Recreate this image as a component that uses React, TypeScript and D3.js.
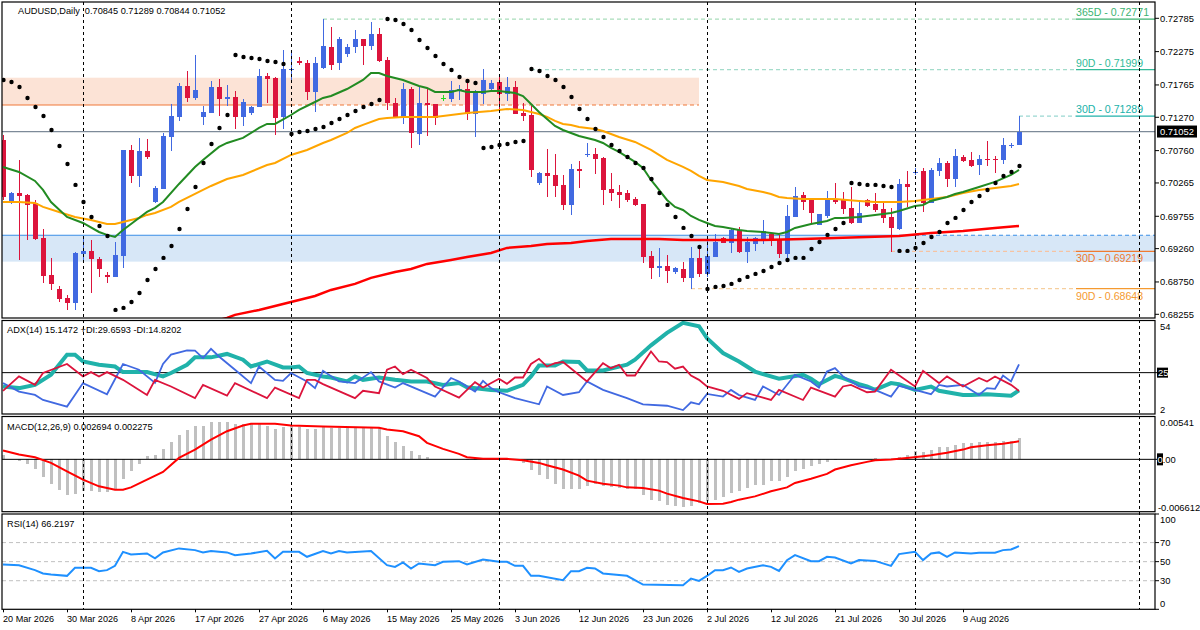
import React from "react";
import * as d3 from "d3";

// ---------- DATA ----------
const openP = [0.70923,0.69974,0.70112,0.70082,0.69959,0.69424,0.68858,0.68643,0.68505,0.68429,0.69179,0.69225,0.69102,0.68858,0.68827,0.69148,0.70770,0.70372,0.70755,0.69974,0.70173,0.70969,0.71275,0.71749,0.71566,0.71275,0.71336,0.71734,0.71550,0.71581,0.71275,0.71336,0.71428,0.71902,0.71872,0.71275,0.72000,0.72132,0.72101,0.71657,0.72025,0.72346,0.72101,0.72239,0.72346,0.72468,0.72361,0.72545,0.72147,0.71489,0.71275,0.71703,0.71015,0.71489,0.71474,0.71566,0.71550,0.71673,0.71703,0.71321,0.71627,0.71703,0.71810,0.71627,0.71734,0.71336,0.71305,0.70265,0.70418,0.70388,0.70235,0.69929,0.70479,0.70694,0.70709,0.70648,0.70173,0.70127,0.70112,0.70020,0.69944,0.69148,0.68965,0.68995,0.68903,0.68949,0.68812,0.69118,0.68873,0.69133,0.69424,0.69347,0.69546,0.69209,0.69332,0.69408,0.69485,0.69408,0.69179,0.69745,0.70082,0.70005,0.69623,0.69760,0.70005,0.70005,0.69883,0.69653,0.70005,0.69944,0.69867,0.69745,0.69561,0.70250,0.70426,0.70449,0.69959,0.70449,0.70571,0.70326,0.70663,0.70617,0.70540,0.70632,0.70632,0.70617,0.70840,0.70845];
const highP = [0.70999,0.70127,0.70617,0.70090,0.70005,0.69561,0.69118,0.68689,0.68551,0.69210,0.69454,0.69393,0.69133,0.68903,0.69362,0.70775,0.70847,0.70954,0.70938,0.70219,0.71030,0.71474,0.71795,0.71979,0.72224,0.71443,0.71826,0.71856,0.71765,0.71673,0.71550,0.71443,0.72009,0.71948,0.71887,0.72300,0.72269,0.72193,0.72147,0.72193,0.72771,0.72652,0.72499,0.72392,0.72606,0.72475,0.72728,0.72637,0.72193,0.71566,0.71795,0.71734,0.71734,0.71719,0.71480,0.71611,0.71826,0.71765,0.71856,0.71688,0.72009,0.71841,0.71887,0.71887,0.71826,0.71489,0.71443,0.70433,0.70786,0.70709,0.70388,0.70556,0.70602,0.70877,0.70801,0.70655,0.70418,0.70235,0.70158,0.70051,0.69950,0.69225,0.69271,0.69164,0.68980,0.69056,0.69286,0.69286,0.69424,0.69485,0.69439,0.69561,0.69592,0.69439,0.69439,0.69699,0.69490,0.69470,0.69929,0.70204,0.70127,0.70010,0.69795,0.70143,0.70265,0.70127,0.70204,0.70005,0.70020,0.70112,0.69974,0.69883,0.70326,0.70449,0.70495,0.70495,0.70495,0.70648,0.70602,0.70786,0.70694,0.70740,0.70694,0.70908,0.70678,0.70954,0.70877,0.71289];
const lowP = [0.70005,0.69944,0.69087,0.69393,0.69393,0.68735,0.68628,0.68444,0.68322,0.68322,0.69087,0.68582,0.68827,0.68735,0.68820,0.68965,0.70265,0.70204,0.70632,0.69959,0.70170,0.70755,0.71214,0.71504,0.71535,0.71153,0.71330,0.71290,0.71443,0.71091,0.71137,0.71305,0.71420,0.71489,0.70999,0.71091,0.71841,0.72070,0.71535,0.71351,0.72009,0.71994,0.71994,0.72193,0.72254,0.72070,0.72300,0.72116,0.71382,0.71260,0.71168,0.70801,0.70847,0.70984,0.71153,0.71520,0.71504,0.71535,0.71229,0.70969,0.71474,0.71657,0.71382,0.71520,0.71315,0.71214,0.70357,0.70235,0.70051,0.70051,0.69852,0.69776,0.70189,0.70663,0.70403,0.69929,0.69990,0.69883,0.69974,0.69913,0.69041,0.68796,0.68827,0.68735,0.68873,0.68751,0.68643,0.68827,0.68827,0.69125,0.69340,0.69194,0.69194,0.69041,0.69225,0.69332,0.69301,0.69118,0.69118,0.69740,0.69852,0.69638,0.69620,0.69730,0.69944,0.69791,0.69638,0.69650,0.69898,0.69821,0.69653,0.69209,0.69546,0.69898,0.70388,0.69821,0.69955,0.70372,0.70204,0.70204,0.70587,0.70510,0.70388,0.70525,0.70418,0.70556,0.70801,0.70844];
const closeP = [0.70051,0.70112,0.70066,0.69929,0.69408,0.68842,0.68720,0.68490,0.68429,0.69194,0.69225,0.69102,0.68949,0.68827,0.69164,0.70770,0.70372,0.70755,0.70663,0.70189,0.70984,0.71290,0.71749,0.71566,0.71688,0.71351,0.71734,0.71550,0.71581,0.71275,0.71504,0.71428,0.71902,0.71856,0.71260,0.72009,0.72009,0.72101,0.71657,0.72101,0.72361,0.72070,0.72468,0.72346,0.72468,0.72361,0.72545,0.72132,0.71489,0.71275,0.71703,0.71030,0.71489,0.71458,0.71260,0.71566,0.71688,0.71703,0.71321,0.71642,0.71841,0.71795,0.71627,0.71734,0.71321,0.71290,0.70464,0.70418,0.70372,0.70219,0.69929,0.70479,0.70449,0.70709,0.70632,0.70158,0.70112,0.70082,0.70005,0.69929,0.69133,0.68965,0.68995,0.68918,0.68965,0.68812,0.69118,0.68873,0.69148,0.69362,0.69347,0.69546,0.69209,0.69362,0.69424,0.69531,0.69378,0.69179,0.69760,0.70066,0.69974,0.69806,0.69791,0.70005,0.69974,0.69867,0.69653,0.69806,0.69913,0.69852,0.69730,0.69577,0.70250,0.70204,0.70433,0.69959,0.70464,0.70571,0.70326,0.70678,0.70602,0.70525,0.70632,0.70617,0.70617,0.70847,0.70847,0.71052];
const sarP = [0.71841,0.71810,0.71734,0.71566,0.71428,0.71290,0.71076,0.70831,0.70556,0.70235,0.69974,0.69745,0.69607,0.69454,0.68322,0.68353,0.68444,0.68582,0.68781,0.68949,0.69118,0.69301,0.69561,0.69867,0.70204,0.70571,0.70862,0.71107,0.71305,0.72224,0.72193,0.72178,0.72162,0.72132,0.72116,0.72086,0.71015,0.71045,0.71061,0.71091,0.71122,0.71183,0.71244,0.71305,0.71367,0.71428,0.71474,0.71535,0.72774,0.72759,0.72698,0.72606,0.72453,0.72331,0.72208,0.72086,0.71994,0.71887,0.71826,0.71795,0.70801,0.70816,0.70847,0.70862,0.70893,0.70908,0.72009,0.71979,0.71902,0.71841,0.71734,0.71581,0.71397,0.71244,0.71091,0.70969,0.70847,0.70755,0.70663,0.70571,0.70495,0.70326,0.70112,0.69929,0.69745,0.69577,0.69454,0.69286,0.68643,0.68674,0.68689,0.68720,0.68781,0.68827,0.68873,0.68918,0.68980,0.69041,0.69087,0.69118,0.69118,0.69255,0.69362,0.69470,0.69561,0.69653,0.70265,0.70250,0.70235,0.70235,0.70219,0.70204,0.69225,0.69225,0.69271,0.69347,0.69439,0.69515,0.69653,0.69730,0.69852,0.69974,0.70066,0.70158,0.70265,0.70372,0.70433,0.70525];

// moving averages: [bar index, value]
const maFast: [number, number][] = [[0,0.70510],[2,0.70433],[4,0.70296],[5,0.70158],[6,0.69974],[8,0.69745],[10,0.69653],[12,0.69515],[13,0.69470],[14,0.69439],[15,0.69546],[16,0.69638],[18,0.69821],[19,0.69883],[20,0.69974],[22,0.70250],[24,0.70510],[25,0.70617],[27,0.70816],[28,0.70877],[30,0.70954],[32,0.71107],[33,0.71168],[34,0.71168],[36,0.71305],[37,0.71382],[39,0.71504],[40,0.71566],[41,0.71596],[43,0.71703],[45,0.71841],[46,0.71948],[47,0.71948],[48,0.71902],[50,0.71841],[51,0.71795],[52,0.71749],[53,0.71719],[54,0.71657],[56,0.71657],[57,0.71688],[58,0.71657],[60,0.71657],[61,0.71673],[62,0.71673],[63,0.71657],[64,0.71642],[65,0.71596],[66,0.71474],[67,0.71351],[68,0.71244],[69,0.71137],[70,0.71076],[71,0.71030],[72,0.70984],[74,0.70923],[75,0.70877],[76,0.70801],[77,0.70740],[78,0.70663],[79,0.70587],[80,0.70495],[81,0.70311],[82,0.70158],[83,0.70005],[84,0.69898],[85,0.69852],[86,0.69760],[87,0.69699],[88,0.69653],[89,0.69607],[90,0.69592],[92,0.69546],[93,0.69531],[95,0.69515],[96,0.69500],[97,0.69485],[98,0.69515],[99,0.69577],[100,0.69607],[101,0.69638],[103,0.69684],[104,0.69730],[105,0.69730],[107,0.69745],[108,0.69760],[110,0.69791],[111,0.69806],[112,0.69837],[114,0.69913],[115,0.69929],[116,0.69990],[118,0.70051],[119,0.70097],[120,0.70127],[122,0.70204],[124,0.70281],[126,0.70388],[127,0.70464]];
const maMid: [number, number][] = [[0,0.69974],[2,0.69974],[4,0.69959],[5,0.69898],[7,0.69821],[9,0.69745],[11,0.69699],[13,0.69638],[14,0.69638],[15,0.69669],[17,0.69730],[18,0.69776],[19,0.69806],[21,0.69898],[22,0.69974],[24,0.70097],[26,0.70219],[28,0.70326],[30,0.70388],[33,0.70540],[34,0.70571],[36,0.70694],[38,0.70770],[40,0.70877],[41,0.70923],[43,0.71030],[44,0.71107],[45,0.71153],[47,0.71244],[48,0.71260],[50,0.71275],[54,0.71275],[56,0.71305],[58,0.71336],[61,0.71367],[63,0.71397],[65,0.71382],[66,0.71351],[67,0.71321],[68,0.71275],[69,0.71214],[70,0.71168],[71,0.71153],[72,0.71122],[74,0.71091],[75,0.71061],[76,0.71015],[77,0.70969],[79,0.70893],[81,0.70770],[82,0.70694],[83,0.70617],[85,0.70510],[86,0.70449],[87,0.70372],[88,0.70311],[90,0.70281],[92,0.70219],[93,0.70173],[95,0.70127],[96,0.70097],[97,0.70051],[98,0.70036],[100,0.70020],[104,0.70020],[107,0.69990],[109,0.69974],[112,0.69974],[114,0.69990],[116,0.70020],[118,0.70051],[120,0.70112],[122,0.70158],[124,0.70189],[126,0.70219],[127,0.70250]];
const maSlow: [number, number][] = [[20,0.67940],[28,0.68200],[29,0.68246],[32,0.68322],[34,0.68383],[36,0.68444],[39,0.68536],[41,0.68628],[44,0.68720],[46,0.68812],[49,0.68903],[51,0.68949],[53,0.69026],[56,0.69087],[58,0.69133],[61,0.69194],[63,0.69271],[66,0.69301],[68,0.69332],[71,0.69347],[73,0.69378],[76,0.69408],[82,0.69408],[85,0.69393],[95,0.69393],[100,0.69408],[104,0.69424],[108,0.69439],[112,0.69454],[116,0.69500],[120,0.69531],[124,0.69577],[127,0.69607]];

const adxMain: [number, number][] = [[0,17.3],[2,16.4],[4,18.2],[6,23.8],[8,35.0],[9,35.0],[10,31.2],[12,29.4],[14,28.4],[15,25.3],[18,25.3],[20,22.9],[21,24.8],[23,29.4],[24,33.5],[26,33.5],[28,35.4],[30,32.2],[31,28.4],[33,31.2],[35,27.9],[36,27.9],[37,28.4],[38,24.8],[40,22.9],[41,22.3],[43,20.1],[44,22.9],[45,21.0],[47,22.3],[49,21.0],[51,20.1],[53,20.1],[55,18.2],[57,19.2],[58,16.9],[61,15.4],[63,14.9],[65,18.2],[66,22.9],[67,29.0],[69,29.0],[70,31.2],[72,30.9],[73,26.2],[75,26.2],[78,29.4],[79,32.2],[81,40.2],[83,47.1],[85,52.7],[87,50.8],[88,44.2],[90,35.9],[92,31.2],[94,25.6],[95,24.2],[97,21.6],[100,23.8],[101,21.6],[102,18.6],[104,23.2],[105,22.0],[107,18.6],[108,17.3],[109,15.4],[111,19.2],[112,18.6],[114,15.4],[116,17.3],[117,14.9],[120,12.6],[121,12.6],[123,13.0],[126,12.2],[127,15.15]];
const plusDI: [number, number][] = [[0,19.2],[2,14.5],[4,12.6],[5,9.8],[8,6.1],[10,19.2],[13,13.0],[15,29.8],[17,26.6],[19,19.3],[20,29.8],[21,35.0],[23,37.4],[24,37.2],[25,33.1],[26,38.2],[27,34.0],[29,26.6],[31,19.2],[32,28.4],[34,21.0],[35,20.4],[36,24.8],[38,20.1],[39,16.4],[40,26.0],[42,20.1],[44,19.2],[46,25.3],[47,20.1],[49,16.7],[50,19.2],[52,15.4],[54,11.7],[56,22.0],[57,20.1],[59,14.5],[60,20.4],[61,16.4],[62,14.1],[64,10.8],[67,7.4],[68,17.3],[70,12.6],[72,14.1],[73,20.1],[75,15.4],[78,10.8],[80,7.4],[83,6.6],[85,4.2],[86,8.5],[87,7.4],[88,13.2],[90,11.7],[91,15.4],[92,12.5],[94,9.8],[95,17.3],[97,12.6],[99,23.8],[101,20.1],[102,16.7],[103,25.6],[104,27.5],[105,22.9],[107,17.3],[109,15.4],[111,11.7],[112,17.7],[114,15.4],[116,13.0],[117,18.2],[118,17.3],[120,18.2],[122,12.6],[123,16.4],[124,16.0],[125,23.4],[126,20.1],[127,29.66]];
const minusDI: [number, number][] = [[0,14.9],[2,22.9],[4,18.2],[5,24.8],[8,29.8],[10,22.9],[11,25.3],[12,22.9],[13,25.3],[15,21.0],[18,12.6],[19,21.0],[21,17.3],[24,10.8],[25,18.2],[28,12.2],[29,19.2],[33,10.8],[34,16.7],[37,10.8],[38,21.0],[39,21.0],[40,18.6],[44,10.8],[45,14.9],[47,13.6],[48,26.6],[49,28.4],[50,24.2],[51,26.6],[53,22.0],[54,17.3],[57,11.1],[59,19.7],[60,16.7],[62,21.6],[63,18.8],[64,22.3],[65,22.3],[66,29.8],[67,32.7],[68,28.4],[69,30.3],[70,30.9],[73,20.1],[75,30.3],[76,27.5],[77,29.4],[78,23.4],[79,23.4],[81,36.8],[82,31.2],[83,30.9],[84,27.2],[85,28.4],[86,23.4],[87,21.0],[88,17.3],[90,14.9],[92,10.4],[93,13.6],[95,11.1],[96,9.8],[97,15.4],[100,9.8],[101,16.7],[104,11.7],[105,17.3],[106,18.2],[108,14.1],[109,14.5],[111,26.6],[114,17.3],[115,26.0],[117,19.2],[118,22.9],[120,17.3],[122,22.0],[123,20.1],[124,22.9],[126,18.2],[127,14.82]];

const macdHist = [0.00051,0.00010,-0.00020,-0.00058,-0.00121,-0.00227,-0.00307,-0.00391,-0.00455,-0.00433,-0.00404,-0.00404,-0.00412,-0.00417,-0.00391,-0.00244,-0.00151,-0.00054,0.00039,0.00060,0.00136,0.00216,0.00313,0.00376,0.00427,0.00427,0.00469,0.00469,0.00469,0.00440,0.00440,0.00440,0.00440,0.00427,0.00389,0.00406,0.00419,0.00406,0.00389,0.00389,0.00406,0.00398,0.00398,0.00398,0.00398,0.00398,0.00398,0.00398,0.00292,0.00216,0.00174,0.00102,0.00060,0.00031,0.00005,0.00002,0.00003,0.00010,-0.00010,-0.00010,0.00002,0.00001,0.00002,-0.00003,-0.00010,-0.00045,-0.00130,-0.00193,-0.00247,-0.00307,-0.00370,-0.00370,-0.00370,-0.00341,-0.00311,-0.00332,-0.00349,-0.00361,-0.00370,-0.00370,-0.00455,-0.00509,-0.00531,-0.00581,-0.00594,-0.00607,-0.00585,-0.00551,-0.00522,-0.00509,-0.00480,-0.00425,-0.00404,-0.00361,-0.00328,-0.00320,-0.00278,-0.00278,-0.00227,-0.00151,-0.00117,-0.00088,-0.00058,-0.00032,-0.00010,0.00010,0.00003,0.00003,0.00010,0.00020,0.00010,0.00008,0.00031,0.00051,0.00102,0.00089,0.00123,0.00153,0.00153,0.00187,0.00203,0.00203,0.00216,0.00216,0.00216,0.00229,0.00237,0.002694];
const macdSignal: [number, number][] = [[0,0.00111],[2,0.00060],[4,0.00026],[6,-0.00045],[8,-0.00151],[10,-0.00256],[12,-0.00341],[14,-0.00383],[15,-0.00383],[16,-0.00354],[18,-0.00256],[20,-0.00159],[22,0.00018],[24,0.00123],[26,0.00250],[28,0.00355],[30,0.00427],[31,0.00449],[34,0.00449],[36,0.00427],[40,0.00414],[47,0.00398],[48,0.00376],[50,0.00355],[52,0.00292],[53,0.00208],[55,0.00132],[57,0.00069],[58,0.00026],[60,0.00006],[63,0.00006],[65,-0.00012],[67,-0.00045],[68,-0.00075],[70,-0.00129],[72,-0.00205],[73,-0.00269],[75,-0.00307],[77,-0.00332],[78,-0.00354],[80,-0.00361],[82,-0.00395],[83,-0.00433],[85,-0.00488],[87,-0.00531],[88,-0.00564],[90,-0.00560],[91,-0.00538],[92,-0.00509],[94,-0.00468],[96,-0.00404],[98,-0.00354],[99,-0.00298],[101,-0.00244],[103,-0.00184],[104,-0.00129],[106,-0.00075],[108,-0.00032],[109,-0.00012],[111,-0.00003],[113,0.00018],[115,0.00039],[116,0.00051],[118,0.00082],[120,0.00123],[121,0.00152],[123,0.00178],[125,0.00196],[127,0.002275]];

const rsiLine: [number, number][] = [[0,47.1],[2,46.3],[4,41.1],[5,37.6],[6,36.5],[8,35.1],[9,43.5],[11,43.5],[12,40.0],[13,41.1],[14,45.6],[15,60.3],[16,57.6],[18,58.6],[19,53.4],[20,59.7],[22,63.9],[24,62.1],[25,59.7],[26,61.1],[28,59.7],[29,56.8],[31,58.6],[33,61.4],[34,53.4],[35,60.3],[37,60.3],[38,55.1],[40,61.1],[41,58.6],[42,61.1],[43,59.7],[46,61.1],[48,46.3],[49,44.5],[50,49.2],[51,42.8],[52,48.1],[54,46.3],[55,49.8],[57,50.5],[58,47.1],[60,52.3],[62,49.8],[63,49.8],[64,45.6],[65,45.6],[66,35.1],[67,35.1],[70,30.5],[71,40.0],[72,40.0],[73,43.5],[74,42.8],[75,37.6],[78,35.1],[80,26.0],[85,25.3],[86,32.3],[87,29.8],[88,35.0],[89,41.1],[90,41.1],[91,43.9],[92,39.3],[93,42.8],[95,46.3],[96,44.5],[97,40.3],[98,51.6],[99,56.8],[101,50.5],[102,50.5],[103,55.1],[104,54.4],[106,48.1],[107,51.6],[109,50.8],[111,45.6],[112,57.9],[114,60.3],[115,51.6],[116,58.6],[117,59.7],[118,55.1],[119,59.7],[121,58.6],[122,59.3],[124,59.3],[125,62.1],[126,62.8],[127,66.22]];

const dateLabels = ["20 Mar 2026","30 Mar 2026","8 Apr 2026","17 Apr 2026","27 Apr 2026","6 May 2026","15 May 2026","25 May 2026","3 Jun 2026","12 Jun 2026","23 Jun 2026","2 Jul 2026","12 Jul 2026","21 Jul 2026","30 Jul 2026","9 Aug 2026"];
const dateLabelIdx = [0,8,16,24,32,40,48,56,64,72,80,88,96,104,112,120];
const monthSepIdx = [10,36,62,88,114,142];
const priceTicks = [0.72785,0.72275,0.71765,0.71270,0.70760,0.70265,0.69755,0.69260,0.68750,0.68255];
const supplyZone = [0.71458, 0.71876];
const supplyZoneIdx = [36, 87];
const demandZone = [0.69061, 0.69465];
const demandZoneIdx = [114];
const lastPrice = 0.71052;
const levelNames = ["365D","90D","30D","30D","90D"];
const levelValues = [0.72771, 0.71999, 0.71289, 0.69219, 0.68648];
const levelStartIdx = [40, 66, 127, 111, 86];
const levelKind = ["high","high","high","low","low"];
const adxTicks = ["54","25","2"];
const macdTicks = ["0.00541","0.00","-0.006612"];
const rsiTicks = [100,70,50,30,0];
const rsiLevels = [70,50,30];
const titleMain = "AUDUSD,Daily  0.70845 0.71289 0.70844 0.71052";
const titleAdx = "ADX(14) 15.1472 +DI:29.6593 -DI:14.8202";
const titleMacd = "MACD(12,26,9) 0.002694 0.002275";
const titleRsi = "RSI(14) 66.2197";

// ---------- CHART ----------
export default function App() {
  const L = 2, R = 1155;
  const M = { t: 2, b: 318 };
  const A = { t: 320.5, b: 414 };
  const C = { t: 416.5, b: 511.7 };
  const S = { t: 514, b: 609.3 };
  const font = "'Liberation Sans', Arial, sans-serif";

  const xs = d3.scaleLinear().domain([0, 127]).range([3, 1019]);
  const yP = d3.scaleLinear().domain([0.68255, 0.72785]).range([314.3, 18.3]);
  const yA = d3.scaleLinear().domain([2, 54]).range([A.b, A.t]);
  const yM = d3.scaleLinear().domain([-0.006612, 0.00541]).range([C.b, C.t]);
  const yR = d3.scaleLinear().domain([0, 100]).range([S.b, S.t]);

  const mk = (y: d3.ScaleLinear<number, number>) =>
    d3.line<[number, number]>().x((d) => xs(d[0])).y((d) => y(d[1]));
  const lP = mk(yP), lA = mk(yA), lM = mk(yM), lR = mk(yR);

  const levelSolid = ["#3cb371", "#33bb99", "#20b2aa", "#f07a30", "#f59a30"];
  const levelDash = ["#a9ddbb", "#a4dccb", "#9ad8d2", "#f6c3a2", "#f6cf9e"];
  const labelX = 1076;

  const bull = "#4169e1", bear = "#dc143c", doji = "#22dd22";

  return (
    <div style={{ position: "fixed", left: 0, top: 0, width: 1200, height: 630, background: "#fff" }}>
      <svg width={1200} height={630} style={{ display: "block" }} fontFamily={font}>
        <defs>
          <clipPath id="cM"><rect x={L} y={M.t} width={R - L} height={M.b - M.t} /></clipPath>
          <clipPath id="cA"><rect x={L} y={A.t} width={R - L} height={A.b - A.t} /></clipPath>
          <clipPath id="cC"><rect x={L} y={C.t} width={R - L} height={C.b - C.t} /></clipPath>
          <clipPath id="cS"><rect x={L} y={S.t} width={R - L} height={S.b - S.t} /></clipPath>
        </defs>
        <rect x={0} y={0} width={1200} height={630} fill="#fff" />

        {/* ---- MAIN PANEL ---- */}
        <g clipPath="url(#cM)">
          <rect x={L} y={yP(supplyZone[1])} width={xs(supplyZoneIdx[1]) - L} height={yP(supplyZone[0]) - yP(supplyZone[1])} fill="#fce3d6" />
          <rect x={L} y={yP(demandZone[1])} width={R - L} height={yP(demandZone[0]) - yP(demandZone[1])} fill="#d7e7f7" />
          <line x1={L} x2={xs(supplyZoneIdx[0])} y1={yP(supplyZone[0])} y2={yP(supplyZone[0])} stroke="#f07838" strokeWidth={1.2} />
          <line x1={xs(supplyZoneIdx[0])} x2={xs(supplyZoneIdx[1])} y1={yP(supplyZone[0])} y2={yP(supplyZone[0])} stroke="#f07838" strokeWidth={1.2} strokeDasharray="4,3" />
          <line x1={L} x2={xs(demandZoneIdx[0])} y1={yP(demandZone[1])} y2={yP(demandZone[1])} stroke="#3a8ee6" strokeWidth={1.2} />
          <line x1={xs(demandZoneIdx[0])} x2={R} y1={yP(demandZone[1])} y2={yP(demandZone[1])} stroke="#3a8ee6" strokeWidth={1.2} strokeDasharray="4,3" />
          <line x1={L} x2={R} y1={yP(lastPrice)} y2={yP(lastPrice)} stroke="#7d8a99" strokeWidth={1.3} />
          {levelValues.map((v, k) => (
            <g key={"lv" + k}>
              <line x1={xs(levelStartIdx[k])} x2={labelX} y1={yP(v)} y2={yP(v)} stroke={levelDash[k]} strokeWidth={1.2} strokeDasharray="4,3" />
              <line x1={labelX} x2={R} y1={yP(v)} y2={yP(v)} stroke={levelSolid[k]} strokeWidth={1.3} />
            </g>
          ))}
          {/* candles */}
          {openP.map((o, i) => {
            const c = closeP[i];
            const col = c > o ? bull : c < o ? bear : doji;
            const x = xs(i);
            const top = yP(Math.max(o, c)), bot = yP(Math.min(o, c));
            return (
              <g key={"c" + i} shapeRendering="crispEdges">
                <line x1={x + 0.5} x2={x + 0.5} y1={yP(highP[i])} y2={yP(lowP[i])} stroke={col} strokeWidth={1} />
                <rect x={x - 2} y={top} width={5} height={Math.max(1, bot - top)} fill={col} />
              </g>
            );
          })}
          <path d={lP(maSlow) || ""} fill="none" stroke="#ff0000" strokeWidth={2.5} />
          <path d={lP(maMid) || ""} fill="none" stroke="#ffa500" strokeWidth={2} />
          <path d={lP(maFast) || ""} fill="none" stroke="#228b22" strokeWidth={2} />
          {sarP.map((s, i) => (
            <circle key={"s" + i} cx={xs(i) + 0.5} cy={yP(s)} r={2.2} fill="#000" />
          ))}
        </g>
        {levelValues.map((v, k) => (
          <text key={"lt" + k} x={labelX} y={levelKind[k] === "high" ? yP(v) - 3 : yP(v) + 11} fontSize={10.6} fill={levelSolid[k]}>
            {levelNames[k] + " - " + v.toFixed(5)}
          </text>
        ))}
        <text x={18} y={14} fontSize={9.2} fill="#000" style={{ whiteSpace: "pre" }}>{titleMain}</text>

        {/* ---- ADX PANEL ---- */}
        <g clipPath="url(#cA)">
          <line x1={L} x2={R} y1={yA(25)} y2={yA(25)} stroke="#000" strokeWidth={1} />
          <path d={lA(adxMain) || ""} fill="none" stroke="#20b2aa" strokeWidth={4} />
          <path d={lA(plusDI) || ""} fill="none" stroke="#4169e1" strokeWidth={1.8} />
          <path d={lA(minusDI) || ""} fill="none" stroke="#dc143c" strokeWidth={1.8} />
        </g>
        <text x={7} y={A.t + 12} fontSize={9.2} fill="#000">{titleAdx}</text>

        {/* ---- MACD PANEL ---- */}
        <g clipPath="url(#cC)">
          {macdHist.map((v, i) => (
            <rect key={"h" + i} x={xs(i) - 1} y={Math.min(yM(0), yM(v))} width={3} height={Math.abs(yM(v) - yM(0))} fill="#c0c0c0" shapeRendering="crispEdges" />
          ))}
          <line x1={L} x2={R} y1={yM(0)} y2={yM(0)} stroke="#000" strokeWidth={1} />
          <path d={lM(macdSignal) || ""} fill="none" stroke="#ff0000" strokeWidth={2} />
        </g>
        <text x={7} y={C.t + 13} fontSize={9.2} fill="#000">{titleMacd}</text>

        {/* ---- RSI PANEL ---- */}
        <g clipPath="url(#cS)">
          {rsiLevels.map((v) => (
            <line key={"rl" + v} x1={L} x2={R} y1={yR(v)} y2={yR(v)} stroke="#c0c0c0" strokeWidth={1} strokeDasharray="4,3" />
          ))}
          <path d={lR(rsiLine) || ""} fill="none" stroke="#1e90ff" strokeWidth={2} />
        </g>
        <text x={7} y={S.t + 13} fontSize={9.2} fill="#000">{titleRsi}</text>

        {/* month separators */}
        {monthSepIdx.map((i) => (
          <line key={"ms" + i} x1={xs(i) + 0.5} x2={xs(i) + 0.5} y1={M.t} y2={S.b} stroke="#000" strokeWidth={1} strokeDasharray="3,3" />
        ))}

        {/* panel borders */}
        {[M, A, C, S].map((p, k) => (
          <rect key={"pb" + k} x={L} y={p.t} width={R - L} height={p.b - p.t} fill="none" stroke="#000" strokeWidth={1.2} />
        ))}

        {/* price axis */}
        {priceTicks.map((t) => (
          <g key={"pt" + t}>
            <line x1={R} x2={R + 4} y1={yP(t)} y2={yP(t)} stroke="#000" />
            <text x={R + 5} y={yP(t)} dy="0.35em" fontSize={9.4} fill="#000">{t.toFixed(5)}</text>
          </g>
        ))}
        <rect x={R + 2} y={yP(lastPrice) - 6} width={40} height={12} fill="#000" />
        <text x={R + 5} y={yP(lastPrice)} dy="0.35em" fontSize={9.4} fill="#fff">{lastPrice.toFixed(5)}</text>

        {/* ADX axis */}
        <text x={R + 5} y={A.t + 2} dy="0.75em" fontSize={9.4} fill="#000">{adxTicks[0]}</text>
        <rect x={R + 2} y={yA(25) - 5} width={11} height={10} fill="#000" />
        <line x1={R} x2={R + 4} y1={yA(25)} y2={yA(25)} stroke="#000" />
        <text x={R + 3} y={yA(25)} dy="0.35em" fontSize={9.4} fill="#fff">{adxTicks[1]}</text>
        <text x={R + 5} y={A.b - 1} fontSize={9.4} fill="#000">{adxTicks[2]}</text>

        {/* MACD axis */}
        <text x={R + 5} y={C.t + 2} dy="0.75em" fontSize={9.4} fill="#000">{macdTicks[0]}</text>
        <line x1={R} x2={R + 4} y1={yM(0)} y2={yM(0)} stroke="#000" />
        <rect x={R + 2} y={yM(0) - 6} width={6} height={12} fill="#000" />
        <text x={R + 2.5} y={yM(0)} dy="0.35em" fontSize={9.4} fill="#000">
          <tspan fill="#fff">{macdTicks[1].slice(0, 1)}</tspan>
          <tspan>{macdTicks[1].slice(1)}</tspan>
        </text>
        <text x={R + 3} y={C.b - 1} fontSize={9.4} fill="#000">{macdTicks[2]}</text>

        {/* RSI axis */}
        {rsiTicks.map((t, k) => (
          <g key={"rt" + t}>
            <line x1={R} x2={R + 4} y1={yR(t)} y2={yR(t)} stroke="#000" />
            <text x={R + 5} y={k === 0 ? S.t + 2 : k === rsiTicks.length - 1 ? S.b - 2 : yR(t)} dy={k === 0 ? "0.75em" : k === rsiTicks.length - 1 ? "0" : "0.35em"} fontSize={9.4} fill="#000">{t}</text>
          </g>
        ))}

        {/* time axis */}
        {dateLabelIdx.map((i, k) => (
          <g key={"dl" + i}>
            <line x1={xs(i) + 0.5} x2={xs(i) + 0.5} y1={S.b} y2={S.b + 3} stroke="#000" />
            <text x={xs(i)} y={622} fontSize={9.1} fill="#000">{dateLabels[k]}</text>
          </g>
        ))}
      </svg>
    </div>
  );
}
